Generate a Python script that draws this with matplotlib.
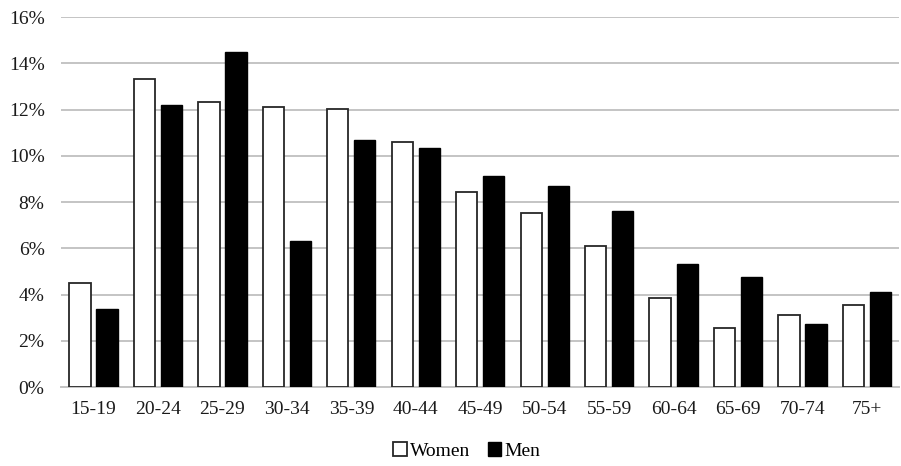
import numpy as np
import matplotlib
matplotlib.use("Agg")
from matplotlib import pyplot as plt
from matplotlib.ticker import FuncFormatter

plt.rcParams['font.family'] = ['Liberation Serif', 'DejaVu Serif']

age_groups = ['15-19', '20-24', '25-29', '30-34', '35-39', '40-44', '45-49',
              '50-54', '55-59', '60-64', '65-69', '70-74', '75+']
women = [4.48, 13.32, 12.33, 12.12, 12.05, 10.62, 8.44, 7.51, 6.10, 3.83, 2.54, 3.12, 3.55]
men = [3.37, 12.19, 14.49, 6.31, 10.68, 10.34, 9.14, 8.71, 7.63, 5.33, 4.78, 2.72, 4.13]
y_ticks = [0, 2, 4, 6, 8, 10, 12, 14, 16]

fig = plt.figure(figsize=(9.01, 4.66), dpi=100)
ax = fig.add_axes([0.068, 0.1695, 0.93, 0.7935])

x = np.arange(len(age_groups))
w = 0.33
ax.bar(x - 0.21, women, width=w, color='white', edgecolor='#262626',
       linewidth=1.3, label='Women', zorder=3)
ax.bar(x + 0.21, men, width=w, color='black', edgecolor='black',
       linewidth=1.0, label='Men', zorder=3)

ax.set_xlim(-0.5, len(age_groups) - 0.5)
ax.set_ylim(0, 16)
ax.set_yticks(y_ticks)
ax.yaxis.set_major_formatter(FuncFormatter(lambda v, p: f'{v:.0f}%'))
ax.set_xticks(x)
ax.set_xticklabels(age_groups)
ax.tick_params(axis='both', length=0, labelsize=14, colors='#1a1a1a')
ax.tick_params(axis='y', pad=12)
ax.tick_params(axis='x', pad=10)

ax.grid(axis='y', color='#c4c4c4', linewidth=1.4, zorder=0)
for s in ['top', 'right', 'left']:
    ax.spines[s].set_visible(False)
ax.spines['bottom'].set_color('#c4c4c4')
ax.spines['bottom'].set_linewidth(1.4)

fig.legend(loc='center', bbox_to_anchor=(0.518, 0.032), ncol=2, frameon=False,
           fontsize=14, handlelength=0.7, handleheight=0.7,
           handletextpad=0.15, columnspacing=0.9)

plt.savefig('out.png', dpi=100)
